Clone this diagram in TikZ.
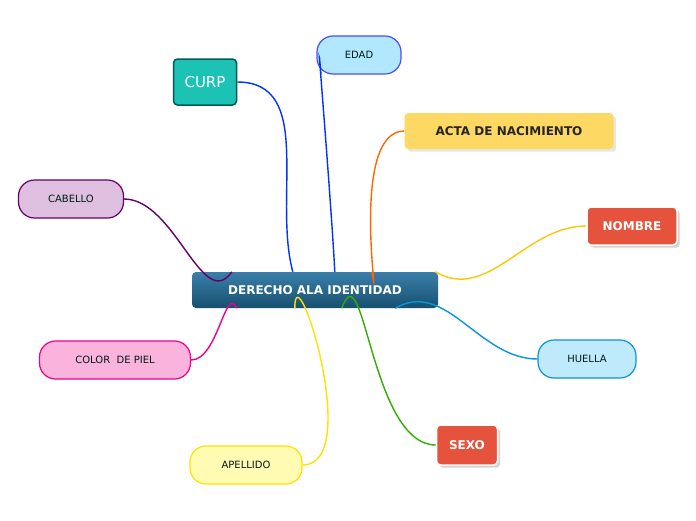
\documentclass[tikz,border=0pt]{standalone}
\usepackage{fontspec}
\setmainfont{DejaVu Sans}
\usetikzlibrary{shadows}

\definecolor{coreA}{HTML}{3A7FAA}
\definecolor{coreB}{HTML}{17506F}
\definecolor{curpC}{HTML}{1CC3B4}
\definecolor{redC}{HTML}{E5533C}

\tikzset{
  topic/.style={rounded corners=16pt, minimum height=38pt, draw, line width=1.2pt, text=black!80!teal, font=\fontsize{10}{11}\selectfont},
  redtopic/.style={rounded corners=4pt, minimum height=38pt, fill=redC, draw=white, line width=1.5pt, text=white, font=\bfseries\fontsize{12}{13}\selectfont, drop shadow={opacity=0.35}},
  link/.style={line width=1.4pt}
}

\begin{document}
\begin{tikzpicture}[x=1pt,y=-1pt]
\useasboundingbox (0,0) rectangle (696,520);

\node[rounded corners=4pt, minimum width=246pt, minimum height=36pt, top color=coreA, bottom color=coreB, text=white, font=\bfseries\fontsize{12}{13}\selectfont] (core) at (315,290) {DERECHO ALA IDENTIDAD};

\node[rounded corners=4pt, minimum width=63pt, minimum height=46pt, fill=curpC, draw=teal!70!black, line width=1.5pt, text=white, font=\fontsize{15}{17}\selectfont] (curp) at (205,82) {CURP};
\node[topic, fill=blue!30!cyan!30, draw=blue!70, minimum width=84pt] (edad) at (359,55) {EDAD};
\node[rounded corners=4pt, minimum width=209pt, minimum height=36pt, fill=yellow!55!orange!60, text=black!85, font=\bfseries\fontsize{12}{13}\selectfont, drop shadow={opacity=0.2}] (acta) at (509,131) {ACTA DE NACIMIENTO};
\node[topic, fill=violet!25, draw=violet!80!black, minimum width=105pt] (cabello) at (71,199) {CABELLO};
\node[redtopic, minimum width=90pt] (nombre) at (632,226) {NOMBRE};
\node[topic, fill=cyan!25, draw=cyan!80!blue, minimum width=98pt] (huella) at (587,359) {HUELLA};
\node[topic, fill=magenta!30, draw=magenta, minimum width=151pt] (piel) at (115,360) {COLOR\ \ DE PIEL};
\node[redtopic, minimum width=61pt, minimum height=40pt] (sexo) at (467,445) {SEXO};
\node[topic, fill=yellow!30, draw=yellow!85!orange, minimum width=112pt] (apellido) at (246,465) {APELLIDO};

\draw[link, blue!80!cyan] (core.north west) ++(101,0) to[out=105,in=0] (curp.east);
\draw[link, blue!80!cyan] (core.north west) ++(143,0) to[out=93,in=95] ([xshift=-38pt]edad.south);
\draw[link, orange!80!red] (core.north west) ++(180,0) to[out=-80,in=180] (acta.west);
\draw[link, violet!80!black] (core.north west) ++(40,0) to[out=-125,in=0] (cabello.east);
\draw[link, yellow!60!orange] (core.north east) ++(-3,0) to[out=-30,in=180] (nombre.west);
\draw[link, cyan!80!blue] (core.south east) ++(-43,0) to[out=30,in=180] (huella.west);
\draw[link, magenta] (core.south west) ++(45,0) to[out=115,in=0] (piel.east);
\draw[link, green!60!black!80!yellow] (core.south west) ++(150,0) to[out=70,in=180] (sexo.west);
\draw[link, yellow!85!orange] (core.south west) ++(103,0) to[out=90,in=0] (apellido.east);
\end{tikzpicture}
\end{document}
